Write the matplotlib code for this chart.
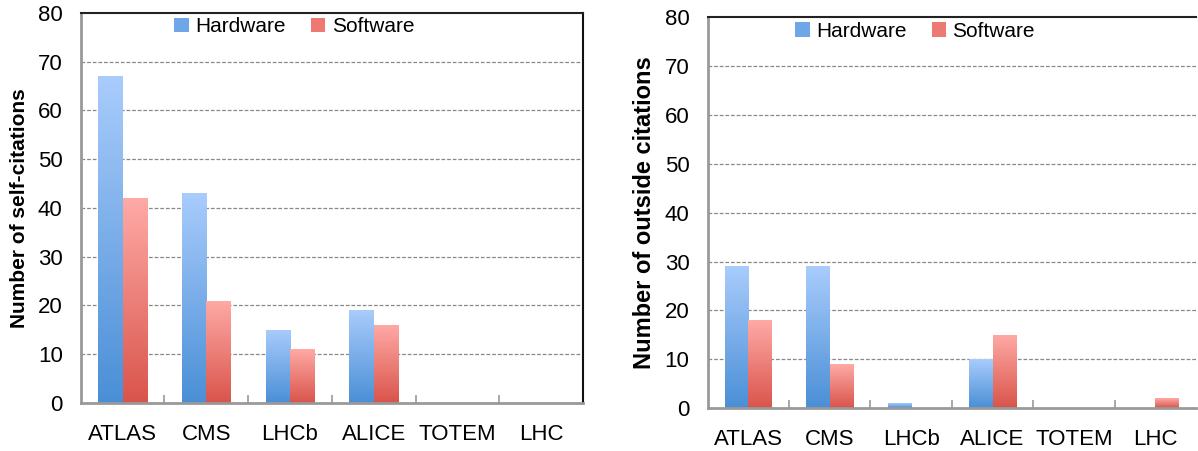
import numpy as np
import matplotlib
matplotlib.use('Agg')
import matplotlib.pyplot as plt
from matplotlib.colors import LinearSegmentedColormap
from matplotlib.patches import Patch

plt.rcParams['font.family'] = ['Liberation Sans', 'DejaVu Sans']

categories = ['ATLAS', 'CMS', 'LHCb', 'ALICE', 'TOTEM', 'LHC']
self_hardware = [67, 43, 15, 19, 0, 0]
self_software = [42, 21, 11, 16, 0, 0]
outside_hardware = [29, 29, 1, 10, 0, 0]
outside_software = [18, 9, 0, 15, 0, 2]

blue_cmap = LinearSegmentedColormap.from_list('blue', ['#4a8fd6', '#a9ccfc'])
red_cmap = LinearSegmentedColormap.from_list('red', ['#d9544b', '#ffaaa6'])
grad = np.linspace(0, 1, 256).reshape(-1, 1)


def gradient_bars(ax, x, values, width, cmap):
    bars = ax.bar(x, values, width, align='edge', color='none', linewidth=0)
    for b in bars:
        h = b.get_height()
        if h <= 0:
            continue
        x0 = b.get_x()
        im = ax.imshow(grad, cmap=cmap, origin='lower', aspect='auto',
                       extent=[x0, x0 + b.get_width(), 0, h], zorder=2)
        im.set_clip_path(b)


def draw_panel(ax, hw, sw, ylabel, ylabel_size, show_right):
    x = np.arange(len(categories))
    w = 0.29
    gradient_bars(ax, x - w, hw, w, blue_cmap)
    gradient_bars(ax, x, sw, w, red_cmap)
    ax.set_xlim(-0.5, len(categories) - 0.5)
    ax.set_ylim(0, 80)
    ax.set_yticks(range(0, 81, 10))
    ax.set_xticks(x)
    ax.set_xticklabels(categories, fontsize=16)
    ax.set_xticks(np.arange(0.5, len(categories) - 0.5), minor=True)
    ax.tick_params(axis='x', which='major', length=0, pad=15)
    ax.tick_params(axis='x', which='minor', direction='in', length=6,
                   width=1.2, color='#999999')
    ax.tick_params(axis='y', length=0, labelsize=16, pad=13)
    for yv in range(10, 80, 10):
        ax.axhline(yv, color='#888888', linestyle=(0, (3, 1.5)),
                   linewidth=0.9, zorder=1)
    ax.spines['left'].set_color('#999999')
    ax.spines['left'].set_linewidth(2)
    ax.spines['bottom'].set_color('#999999')
    ax.spines['bottom'].set_linewidth(2)
    ax.spines['top'].set_color('#222222')
    ax.spines['top'].set_linewidth(1.5)
    ax.spines['right'].set_color('#111111')
    ax.spines['right'].set_linewidth(1.5)
    ax.spines['right'].set_visible(show_right)
    ax.set_ylabel(ylabel, fontsize=ylabel_size, fontweight='bold', labelpad=6)
    handles = [Patch(facecolor='#6fa6e8', label='Hardware'),
               Patch(facecolor='#ec7a72', label='Software')]
    ax.legend(handles=handles, loc='center', bbox_to_anchor=(0.425, 0.964),
              ncol=2, frameon=False, fontsize=15, handlelength=0.7,
              handleheight=0.7, handletextpad=0.3, columnspacing=1.2,
              borderpad=0)


fig = plt.figure(figsize=(11.98, 4.51), dpi=100)
ax1 = fig.add_axes([0.0674, 0.1064, 0.4193, 0.8654])
ax2 = fig.add_axes([0.5907, 0.0953, 0.4076, 0.8663])

draw_panel(ax1, self_hardware, self_software,
           'Number of self-citations', 15, True)
draw_panel(ax2, outside_hardware, outside_software,
           'Number of outside citations', 17, False)

fig.savefig('out.png', dpi=100)
